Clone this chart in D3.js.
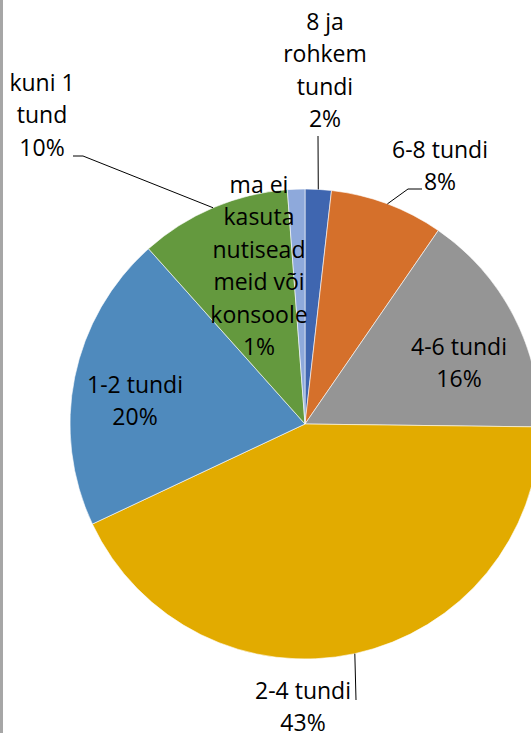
<!DOCTYPE html>
<html>
<head>
<meta charset="utf-8">
<script src="https://cdn.jsdelivr.net/npm/d3@7"></script>
<style>
  body { margin: 0; background: #fff; }
  svg { display: block; }
  .slicelabel { font-family: "Open Sans", sans-serif; font-size: 23px; fill: #000; }
</style>
</head>
<body>
<div id="chart"></div>
<script>
// ---- data ----
const categories = [
  "8 ja rohkem tundi",
  "6-8 tundi",
  "4-6 tundi",
  "2-4 tundi",
  "1-2 tundi",
  "kuni 1 tund",
  "ma ei kasuta nutiseadmeid või konsoole"
];
const shares = [1.8, 7.8, 15.6, 42.8, 20.4, 10.4, 1.2];
// label text lines as shown in the chart (percent line is added from the data)
const labelLines = [
  ["8 ja", "rohkem", "tundi"],
  ["6-8 tundi"],
  ["4-6 tundi"],
  ["2-4 tundi"],
  ["1-2 tundi"],
  ["kuni 1", "tund"],
  ["ma ei", "kasuta", "nutisead", "meid või", "konsoole"]
];
const colors = ["#3f66b0", "#d5702b", "#959595", "#e2ab00", "#4f8abd", "#64993e", "#8ea9db"];

// ---- layout ----
const width = 531, height = 733;
const cx = 305, cy = 424, radius = 235;
const lineH = 32.4;

// label block anchor: centre x and first baseline (manually placed, as in Excel)
const labelPos = [
  [325, 30], [440, 158], [459, 355], [303, 699], [135, 393], [42, 91], [259, 193]
];
// leader lines: points on the label side; the end on the pie edge comes from the arc
const leaders = [
  [[318, 136]],
  [[422, 189], [408, 189]],
  null,
  [[356, 700]],
  null,
  [[73, 156], [83, 156]],
  null
];

const svg = d3.select("#chart").append("svg")
  .attr("width", width)
  .attr("height", height);

// grey frame edge on the left
svg.append("rect")
  .attr("x", 0).attr("y", 0)
  .attr("width", 3).attr("height", height)
  .attr("fill", "#a6a6a6");

const pie = d3.pie().sort(null).value(d => d);
const arcs = pie(shares);
const arc = d3.arc().innerRadius(0).outerRadius(radius);

const g = svg.append("g").attr("transform", `translate(${cx},${cy})`);

g.selectAll("path.slice")
  .data(arcs)
  .join("path")
  .attr("class", "slice")
  .attr("d", arc)
  .attr("fill", (d, i) => colors[i])
  .attr("stroke", "#fff")
  .attr("stroke-width", 0.6);

const total = d3.sum(shares);

// leader lines
arcs.forEach((d, i) => {
  if (!leaders[i]) return;
  const mid = (d.startAngle + d.endAngle) / 2;
  const edge = [cx + radius * Math.sin(mid), cy - radius * Math.cos(mid)];
  const pts = leaders[i].concat([edge]);
  svg.append("path")
    .attr("d", d3.line()(pts))
    .attr("fill", "none")
    .attr("stroke", "#000")
    .attr("stroke-width", 1);
});

// labels
arcs.forEach((d, i) => {
  const lines = labelLines[i].concat([Math.round(d.value / total * 100) + "%"]);
  const t = svg.append("text")
    .attr("class", "slicelabel")
    .attr("text-anchor", "middle");
  lines.forEach((ln, k) => {
    t.append("tspan")
      .attr("x", labelPos[i][0])
      .attr("y", labelPos[i][1] + k * lineH)
      .text(ln);
  });
});
</script>
</body>
</html>
